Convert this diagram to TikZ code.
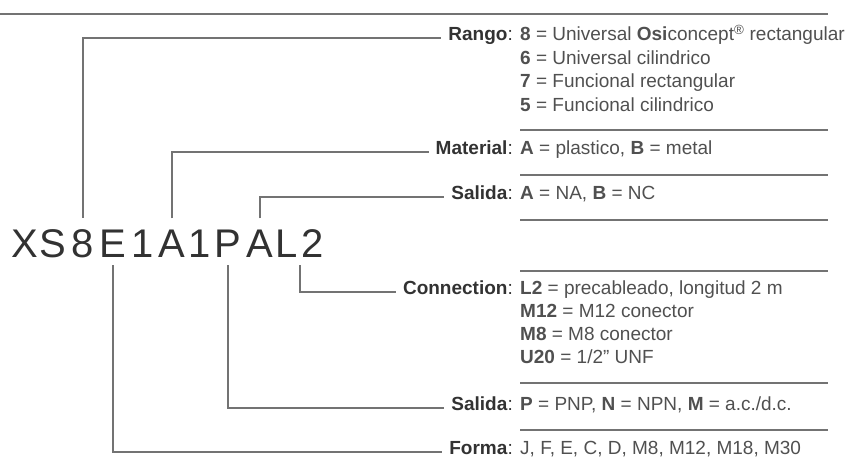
\documentclass[tikz,border=0pt]{standalone}
\usepackage{fontspec}
\setmainfont{Liberation Sans}
\usetikzlibrary{positioning,calc}
\definecolor{rulegray}{RGB}{115,115,115}
\definecolor{inkgray}{RGB}{50,50,50}
\definecolor{valgray}{RGB}{80,80,80}
\newcommand{\txtsize}{\fontsize{19}{23}\selectfont}
\tikzset{
  lead/.style     = {draw=rulegray,line width=1.3pt},
  sepline/.style  = {draw=rulegray,line width=1.2pt},
  keyname/.style  = {anchor=mid east,inner ysep=0pt,inner xsep=7pt,
                     font=\txtsize,text=inkgray},
  keyval/.style   = {anchor=mid west,inner sep=0pt,font=\txtsize,text=valgray},
  codechar/.style = {anchor=base,inner sep=0pt,
                     font=\fontsize{40}{40}\selectfont,text=inkgray},
}

\begin{document}
\begin{tikzpicture}[x=1pt,y=-1pt]
  \useasboundingbox (0,0) rectangle (858,459);
  \draw[sepline] (0,14) -- (828,14);
  \foreach \y in {130,175,220,271,383,430}
    \draw[sepline] (520,\y) -- (828,\y);
  % order code
  \foreach \c/\x [count=\i] in {X/25,S/53,8/83,E/113,1/143,A/172,
                                1/200,P/228,A/260,L/287,2/313}
    \node[codechar] (c\i) at (\x,257) {\c};
  % fields above
  \node[keyname] (rango) at (520,38) {\textbf{Rango}:};
  \node[keyval] (rangoval) at (520,38)
    {\textbf{8} = Universal \textbf{Osi}concept\textsuperscript{®} rectangular};
  \foreach \n/\t [count=\k] in {6/Universal cilindrico,7/Funcional rectangular,
                                5/Funcional cilindrico}
    \node[keyval] (rango\k) at (520,{38+23.5*\k}) {\textbf{\n} = \t};
  \node[keyname] (material) at (520,152) {\textbf{Material}:};
  \node[keyval] (materialval) at (520,152) {\textbf{A} = plastico, \textbf{B} = metal};
  \node[keyname] (salidaA) at (520,197) {\textbf{Salida}:};
  \node[keyval] (salidaAval) at (520,197) {\textbf{A} = NA, \textbf{B} = NC};
  % fields below
  \node[keyname] (conn) at (520,292) {\textbf{Connection}:};
  \node[keyval] (connval) at (520,292) {\textbf{L2} = precableado, longitud 2 m};
  \foreach \n/\t [count=\k] in {M12/M12 conector,M8/M8 conector,U20/{1/2" UNF}}
    \node[keyval] (conn\k) at (520,{292+23*\k}) {\textbf{\n} = \t};
  \node[keyname] (salidaP) at (520,408) {\textbf{Salida}:};
  \node[keyval] (salidaPval) at (520,408)
    {\textbf{P} = PNP, \textbf{N} = NPN, \textbf{M} = a.c./d.c.};
  \node[keyname] (forma) at (520,452) {\textbf{Forma}:};
  \node[keyval] (formaval) at (520,452) {J, F, E, C, D, M8, M12, M18, M30};
  % leaders
  \draw[lead] ([yshift=11pt]c3.north) |- (rango.mid west);
  \draw[lead] ([yshift=11pt]c6.north) |- (material.mid west);
  \draw[lead] ([yshift=11pt]c9.north) |- (salidaA.mid west);
  \draw[lead] ($(c10.south)!.5!(c11.south)+(0,8)$) |- (conn.mid west);
  \draw[lead] ([yshift=-8pt]c8.south) |- (salidaP.mid west);
  \draw[lead] ([yshift=-8pt]c4.south) |- (forma.mid west);
\end{tikzpicture}
\end{document}
